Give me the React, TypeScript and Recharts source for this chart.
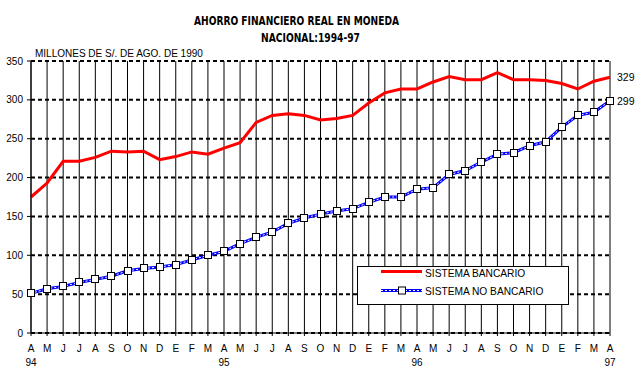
import React from "react";
import { LineChart, Line, XAxis, YAxis, CartesianGrid, LabelList } from "recharts";

const months = ["A","M","J","J","A","S","O","N","D","E","F","M","A","M","J","J","A","S","O","N","D","E","F","M","A","M","J","J","A","S","O","N","D","E","F","M","A"];
const yearLabels: Record<number, string> = { 0: "94", 12: "95", 24: "96", 36: "97" };
const bancario = [175,193,221,221,226,234,233,234,223,227,233,230,238,245,271,280,282,280,274,276,280,296,309,314,314,323,330,326,326,335,326,326,325,321,314,324,329];
const noBancario = [51,57,60,65,69,73,80,83,85,88,94,100,105,115,123,130,141,148,153,157,160,168,175,175,185,187,204,209,220,230,232,241,246,265,280,284,299];
const yTicks = [0, 50, 100, 150, 200, 250, 300, 350];
const seriesNames = ["SISTEMA BANCARIO", "SISTEMA NO BANCARIO"];
const titleLines = ["AHORRO FINANCIERO REAL EN MONEDA", "NACIONAL:1994-97"];
const yAxisTitle = "MILLONES DE S/. DE AGO. DE 1990";

const data = months.map((m, i) => ({ idx: i, bancario: bancario[i], noBancario: noBancario[i] }));

const FONT = '"Liberation Sans", Arial, sans-serif';
const NARROW = '"Liberation Sans Narrow", "Arial Narrow", "DejaVu Sans Condensed", sans-serif';
const last = months.length - 1;

const XTick = (props: any) => {
  const { x, y, payload } = props;
  const i = payload.value as number;
  return (
    <g>
      <text x={x} y={y + 14} textAnchor="middle" fontSize={10} fontFamily={FONT} fill="#000">{months[i]}</text>
      {yearLabels[i] && (
        <text x={x} y={y + 28} textAnchor="middle" fontSize={10} fontFamily={FONT} fill="#000">{yearLabels[i]}</text>
      )}
    </g>
  );
};

const SquareDot = (props: any) => {
  const { cx, cy, index } = props;
  if (cx == null || cy == null) return <g key={index} />;
  return <rect key={index} x={Math.round(cx) - 3.5} y={Math.round(cy) - 3.5} width={7} height={7} fill="#fff" stroke="#000" strokeWidth={1} />;
};

const EndLabel = (props: any) => {
  const { x, y, index, value } = props;
  if (index !== last) return null;
  return <text x={x + 7} y={y + 4} fontSize={10.5} fontFamily={FONT} fill="#000">{value}</text>;
};

const LegendBox = () => (
  <svg width={212} height={39} style={{ display: "block" }}>
    <rect x={0.5} y={0.5} width={211} height={38} fill="#fff" stroke="#000" strokeWidth={1} />
    <line x1={24} y1={5.5} x2={65} y2={5.5} stroke="#ff0000" strokeWidth={3} />
    <text x={68} y={11} fontSize={10.2} fontFamily={FONT} fill="#000">{seriesNames[0]}</text>
    <line x1={24} y1={24.5} x2={65} y2={24.5} stroke="#0000ff" strokeWidth={3} />
    <line x1={24} y1={24.5} x2={65} y2={24.5} stroke="#fff" strokeWidth={1} strokeDasharray="2 2" />
    <rect x={41.5} y={21} width={7} height={7} fill="#fff" stroke="#000" strokeWidth={1} />
    <text x={68} y={28.5} fontSize={10.2} fontFamily={FONT} fill="#000">{seriesNames[1]}</text>
  </svg>
);

export default function App() {
  return (
    <div style={{ position: "absolute", left: 0, top: 0, width: 638, height: 378, background: "#fff" }}>
      <LineChart width={638} height={378} data={data} margin={{ top: 61, right: 28, bottom: 0, left: 0 }}>
        <CartesianGrid horizontal={false} stroke="#000" strokeWidth={1} />
        <CartesianGrid vertical={false} stroke="#000" strokeWidth={2} strokeDasharray="4 3" />
        <XAxis
          dataKey="idx"
          type="category"
          interval={0}
          height={45}
          tickSize={3}
          tickMargin={2}
          tick={<XTick />}
          axisLine={{ stroke: "#000" }}
          tickLine={{ stroke: "#000" }}
        />
        <YAxis
          domain={[0, 350]}
          ticks={yTicks}
          width={31}
          tickSize={4}
          tickMargin={4}
          interval={0}
          axisLine={{ stroke: "#000" }}
          tickLine={{ stroke: "#000" }}
          tick={{ fill: "#000", fontSize: 10, fontFamily: FONT }}
        />
        <Line
          type="linear"
          dataKey="bancario"
          name={seriesNames[0]}
          stroke="#ff0000"
          strokeWidth={3}
          dot={false}
          isAnimationActive={false}
        >
          <LabelList dataKey="bancario" content={<EndLabel />} />
        </Line>
        <Line
          type="linear"
          dataKey="noBancario"
          name={seriesNames[1]}
          stroke="#0000ff"
          strokeWidth={3}
          dot={false}
          isAnimationActive={false}
        />
        <Line
          type="linear"
          dataKey="noBancario"
          name={seriesNames[1] + " "}
          stroke="#ffffff"
          strokeWidth={1}
          strokeDasharray="2 2"
          dot={<SquareDot />}
          isAnimationActive={false}
        >
          <LabelList dataKey="noBancario" content={<EndLabel />} />
        </Line>
      </LineChart>
      <div style={{ position: "absolute", left: 357, top: 266 }}>
        <LegendBox />
      </div>
      <svg width={638} height={378} style={{ position: "absolute", left: 0, top: 0, pointerEvents: "none" }}>
        <text x={296.5} y={24.5} textAnchor="middle" fontSize={12} fontWeight="bold" fontFamily={NARROW} textLength={205} lengthAdjust="spacingAndGlyphs" fill="#000">{titleLines[0]}</text>
        <text x={310.5} y={41.5} textAnchor="middle" fontSize={12} fontWeight="bold" fontFamily={NARROW} textLength={99} lengthAdjust="spacingAndGlyphs" fill="#000">{titleLines[1]}</text>
        <text x={35} y={56.5} fontSize={10} fontFamily={FONT} fill="#000">{yAxisTitle}</text>
      </svg>
    </div>
  );
}
